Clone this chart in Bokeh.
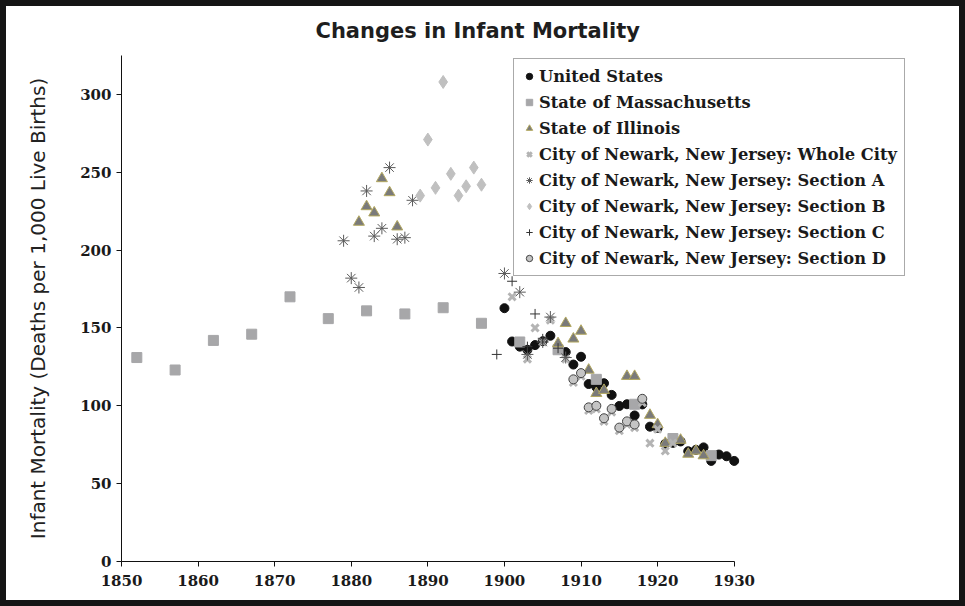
from bokeh.plotting import figure
from bokeh.models import Range1d, FixedTicker, Legend, LegendItem
from bokeh.embed import file_html
from bokeh.resources import INLINE

# ---------------- data ----------------
us_years = list(range(1900, 1931))
us_vals = [162.7, 141.3, 138.0, 136.0, 139.0, 141.5, 145.0, 137.0, 134.5, 126.5,
           131.5, 114.0, 112.0, 114.5, 107.0, 99.9, 101.0, 93.8, 100.9, 86.6,
           85.8, 75.6, 76.2, 77.1, 70.8, 71.7, 73.3, 64.6, 68.7, 67.6, 64.6]

mass_years = [1852, 1857, 1862, 1867, 1872, 1877, 1882, 1887, 1892, 1897,
              1902, 1907, 1912, 1917, 1922, 1927]
mass_vals = [131, 123, 142, 146, 170, 156, 161, 159, 163, 153,
             141, 136, 117, 101, 79, 68]

ill_years = [1881, 1882, 1883, 1884, 1885, 1886,
             1907, 1908, 1909, 1910, 1911, 1912, 1913, 1916, 1917,
             1919, 1920, 1921, 1923, 1924, 1925, 1926]
ill_vals = [218, 228, 224, 246, 237, 215,
            140, 153, 143, 148, 123, 108, 110, 119, 119,
            94, 88, 76, 78, 69, 71, 68]

whole_years = [1901, 1903, 1904, 1905, 1906, 1908, 1909, 1910, 1911, 1912,
               1913, 1914, 1915, 1916, 1917, 1918, 1919, 1920, 1921, 1922]
whole_vals = [170, 130, 150, 141, 155, 130, 115, 119, 97, 98,
              90, 96, 84, 88, 86, 102, 76, 85, 71, 76]

secA_years = [1879, 1880, 1881, 1882, 1883, 1884, 1885, 1886, 1887, 1888,
              1900, 1902, 1903, 1905, 1906, 1908]
secA_vals = [206, 182, 176, 238, 209, 214, 253, 207, 208, 232,
             185, 173, 133, 141, 157, 131]

secB_years = [1889, 1890, 1891, 1892, 1893, 1894, 1895, 1896, 1897]
secB_vals = [235, 271, 240, 308, 249, 235, 241, 253, 242]

secC_years = [1899, 1901, 1903, 1904, 1905, 1907]
secC_vals = [133, 180, 138, 159, 143, 137]

secD_years = [1909, 1910, 1911, 1912, 1913, 1914, 1915, 1916, 1917, 1918]
secD_vals = [117, 121, 99, 100, 92, 98, 86, 90, 88, 104.5]

x_ticks = [1850, 1860, 1870, 1880, 1890, 1900, 1910, 1920, 1930]
y_ticks = [0, 50, 100, 150, 200, 250, 300]

labels = ["United States", "State of Massachusetts", "State of Illinois",
          "City of Newark, New Jersey: Whole City",
          "City of Newark, New Jersey: Section A",
          "City of Newark, New Jersey: Section B",
          "City of Newark, New Jersey: Section C",
          "City of Newark, New Jersey: Section D"]

# ---------------- layout ----------------
W, H = 965, 606
LEFT, RIGHT, TOP, BOTTOM = 115, 41, 49, 51
frame_w = W - LEFT - RIGHT
px_per_year = 612.7 / 80.0
x_end = 1850 + frame_w / px_per_year

p = figure(width=W, height=H, output_backend="svg", toolbar_location=None,
           x_range=Range1d(1850, x_end), y_range=Range1d(0, 325),
           min_border_left=LEFT, min_border_right=RIGHT,
           min_border_top=TOP, min_border_bottom=BOTTOM,
           background_fill_color="white", border_fill_color="white",
           styles={"border": "6px solid #151515"})
p.outline_line_color = None
p.xgrid.visible = False
p.ygrid.visible = False

p.title.text = "Changes in Infant Mortality"
p.title.align = "left"
p.title.offset = 194
p.title.vertical_align = "middle"
p.title.standoff = 23
p.title.text_font = "DejaVu Sans"
p.title.text_font_size = "21px"
p.title.text_font_style = "bold"
p.title.text_color = "#1e1e1e"

for ax in (p.xaxis[0], p.yaxis[0]):
    ax.axis_line_color = "#111111"
    ax.axis_line_width = 1
    ax.major_tick_line_color = "#111111"
    ax.major_tick_out = 5
    ax.major_tick_in = 0
    ax.minor_tick_line_color = None
    ax.major_label_text_font = "DejaVu Serif"
    ax.major_label_text_font_style = "bold"
    ax.major_label_text_font_size = "15px"
    ax.major_label_text_color = "#1a1a1a"

p.xaxis[0].ticker = FixedTicker(ticks=x_ticks)
p.yaxis[0].ticker = FixedTicker(ticks=y_ticks)
p.xaxis[0].bounds = (1850, 1930)
p.yaxis[0].bounds = (0, 325)
p.xaxis[0].major_label_standoff = 8
p.yaxis[0].major_label_standoff = 5

p.yaxis[0].axis_label = "Infant Mortality (Deaths per 1,000 Live Births)"
p.yaxis[0].axis_label_text_font = "DejaVu Sans"
p.yaxis[0].axis_label_text_font_style = "normal"
p.yaxis[0].axis_label_text_font_size = "20px"
p.yaxis[0].axis_label_text_color = "#222222"
p.yaxis[0].axis_label_standoff = 27

# ---------------- series ----------------
r_us = p.scatter(us_years, us_vals, marker="circle", size=9,
                 fill_color="#111111", line_color="#111111")
r_ma = p.scatter(mass_years, mass_vals, marker="square", size=10,
                 fill_color="#a7a7a9", line_color="#a7a7a9")
r_il = p.scatter(ill_years, ill_vals, marker="triangle", size=11,
                 fill_color="#7a7a7a", line_color="#b3a860", line_width=1)
r_wc = p.scatter(whole_years, whole_vals, marker="x", size=10,
                 line_color="#b4b4b4", line_width=3)
r_a = p.scatter(secA_years, secA_vals, marker="asterisk", size=12,
                line_color="#5a5a5a", line_width=1)
r_b = p.scatter(secB_years, secB_vals, marker="diamond", size=13,
                fill_color="#c0c0c0", line_color="#c0c0c0")
r_c = p.scatter(secC_years, secC_vals, marker="cross", size=10,
                line_color="#333333", line_width=1)
r_d = p.scatter(secD_years, secD_vals, marker="circle", size=9,
                fill_color="#c4c4c4", line_color="#444444", line_width=1)

renderers = [r_us, r_ma, r_il, r_wc, r_a, r_b, r_c, r_d]
legend = Legend(items=[LegendItem(label=l, renderers=[r]) for l, r in zip(labels, renderers)],
                location=(392, 285))
legend.padding = 7
legend.spacing = 6
legend.glyph_width = 16
legend.glyph_height = 20
legend.label_standoff = 2
legend.label_height = 20
legend.label_text_font = "DejaVu Serif"
legend.label_text_font_style = "bold"
legend.label_text_font_size = "16.3px"
legend.label_text_color = "#1a1a1a"
legend.border_line_color = "#555555"
legend.border_line_width = 1.5
legend.background_fill_color = "white"
legend.background_fill_alpha = 1.0
legend.margin = 0
p.add_layout(legend)

open("out.html", "w").write(file_html(p, INLINE))
